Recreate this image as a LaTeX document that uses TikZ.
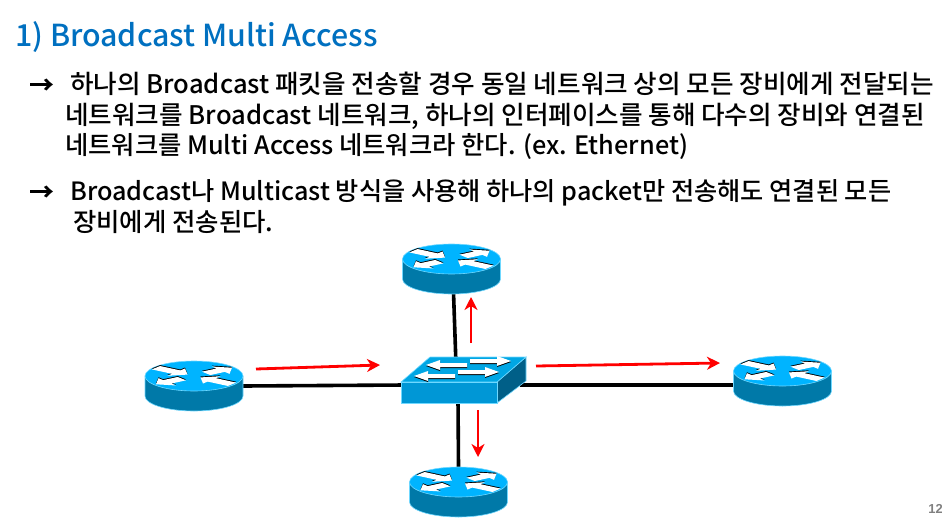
\documentclass[tikz,border=0pt]{standalone}
\usepackage{fontspec}
\usetikzlibrary{arrows.meta}
\setmainfont{Noto Sans CJK KR Medium}
\newfontfamily\arrowfont{Noto Sans CJK KR Black}
\newfontfamily\pagefont{Liberation Sans}
\definecolor{routertop}{HTML}{00B4FF}
\definecolor{routerside}{HTML}{0079A8}
\definecolor{devedge}{HTML}{6FD8FF}
\definecolor{swtop}{HTML}{00A6E4}
\definecolor{swfront}{HTML}{0097D6}
\definecolor{swside}{HTML}{005F88}
\definecolor{titleblue}{HTML}{0070C0}
\tikzset{
	titletext/.style={anchor=base west,inner sep=0pt,text=titleblue,font=\fontsize{30.3}{30.3}\selectfont},
	bodytext/.style={anchor=base west,inner sep=0pt,font=\fontsize{#1}{#1}\selectfont},
	bullet/.style={anchor=base west,inner sep=0pt,font=\arrowfont\fontsize{25}{25}\selectfont},
	device/.style={inner sep=0pt,minimum width=98pt,minimum height=50pt},
	wire/.style={line width=3.6pt,black},
	signal/.style={-{Stealth[length=13pt,width=13pt,inset=4pt]},line width=2.8pt,red},
	router/.pic={
		\begin{scope}[y=1pt]
			\draw[devedge,fill=routerside,line width=.6pt] (-49,10) -- (-49,-10) arc[start angle=180,end angle=360,x radius=49,y radius=15] -- (49,10) -- cycle;
			\draw[devedge,fill=routertop,line width=.6pt] (0,10) ellipse[x radius=49,y radius=15];
			\begin{scope}[shift={(0,10)},yscale=.3]
				\foreach \ang in {36,216} {
					\fill[black,yshift=3pt,rotate=\ang] (15,-7) -- (33,-7) -- (33,-15) -- (47,0) -- (33,15) -- (33,7) -- (15,7) -- cycle;
					\fill[white,rotate=\ang] (15,-7) -- (33,-7) -- (33,-15) -- (47,0) -- (33,15) -- (33,7) -- (15,7) -- cycle;
				}
				\foreach \ang in {144,324} {
					\fill[black,yshift=3pt,rotate=\ang] (47,-7) -- (22,-7) -- (22,-15) -- (8,0) -- (22,15) -- (22,7) -- (47,7) -- cycle;
					\fill[white,rotate=\ang] (47,-7) -- (22,-7) -- (22,-15) -- (8,0) -- (22,15) -- (22,7) -- (47,7) -- cycle;
				}
			\end{scope}
		\end{scope}
	}
}
\begin{document}
\begin{tikzpicture}[x=1pt,y=-1pt]
	\useasboundingbox (0,0) rectangle (942,530);
	% text
	\node[titletext] (heading) at (15,46) {1) Broadcast Multi Access};
	\node[bullet] (mark1) at (29,94) {→};
	\node[bodytext=25.6] (line1) at (70,93) {하나의 Broadcast 패킷을 전송할 경우 동일 네트워크 상의 모든 장비에게 전달되는};
	\node[bodytext=25.6] (line2) at (65,124) {네트워크를 Broadcast 네트워크, 하나의 인터페이스를 통해 다수의 장비와 연결된};
	\node[bodytext=25.3] (line3) at (65,154) {네트워크를 Multi Access 네트워크라 한다. (ex. Ethernet)};
	\node[bullet] (mark2) at (29,201) {→};
	\node[bodytext=25.2] (line4) at (70,200) {Broadcast나 Multicast 방식을 사용해 하나의 packet만 전송해도 연결된 모든};
	\node[bodytext=25.4] (line5) at (73,231) {장비에게 전송된다.};
	\node[anchor=base east,inner sep=0pt,text=gray,font=\pagefont\bfseries\fontsize{13}{13}\selectfont] (pageno) at (943,513) {12};
	% devices
	\node[device] (rleft) at (194,386) {};
	\node[device] (rtop) at (451.5,269) {};
	\node[device] (rright) at (782.5,381) {};
	\node[device] (rbottom) at (458.5,492) {};
	\coordinate (swn) at (456,365);
	\coordinate (sww) at (405,385);
	\coordinate (swe) at (520,385);
	\coordinate (sws) at (458,400);
	\draw[wire] (rleft.east) -- (sww);
	\draw[wire] (swe) -- (rright.west |- swe);
	\draw[wire] (rtop.south) ++(2,-2) coordinate (rtopfoot) (rtopfoot) -- (swn);
	\draw[wire] (sws) -- (rbottom.north);
	\pic at (rleft) {router};
	\pic at (rtop) {router};
	\pic at (rright) {router};
	\pic at (rbottom) {router};
	% switch
	\draw[devedge,fill=swside,line width=.6pt] (526,357) -- (526,381) -- (497,403) -- (497,382) -- cycle;
	\draw[devedge,fill=swtop,line width=.6pt] (430,357) -- (526,357) -- (497,382) -- (401,382) -- cycle;
	\draw[devedge,fill=swfront,line width=.6pt] (401,382) rectangle (497,403);
	\foreach \xa/\ya/\dir in {470/361/1,467/365/-1,455/376/-1,458/372/1} {
		\fill[black] (\xa,\ya-1) -- ++(\dir*27,0) -- ++(0,-3) -- ++(\dir*14,5) -- ++(-\dir*14,5) -- ++(0,-3) -- ++(-\dir*27,0) -- cycle;
		\fill[white] (\xa,\ya-2) -- ++(\dir*27,0) -- ++(0,-3) -- ++(\dir*14,5) -- ++(-\dir*14,5) -- ++(0,-3) -- ++(-\dir*27,0) -- cycle;
	}
	% red arrows
	\coordinate (sig1a) at (256,369);
	\coordinate (sig1b) at (380,365);
	\coordinate (sig2a) at (471,343);
	\coordinate (sig2b) at (471,297);
	\coordinate (sig3a) at (536,366);
	\coordinate (sig3b) at (720,363);
	\coordinate (sig4a) at (478,410);
	\coordinate (sig4b) at (478,457);
	\draw[signal] (sig1a) -- (sig1b);
	\draw[signal] (sig2a) -- (sig2b);
	\draw[signal] (sig3a) -- (sig3b);
	\draw[signal] (sig4a) -- (sig4b);
\end{tikzpicture}
\end{document}
